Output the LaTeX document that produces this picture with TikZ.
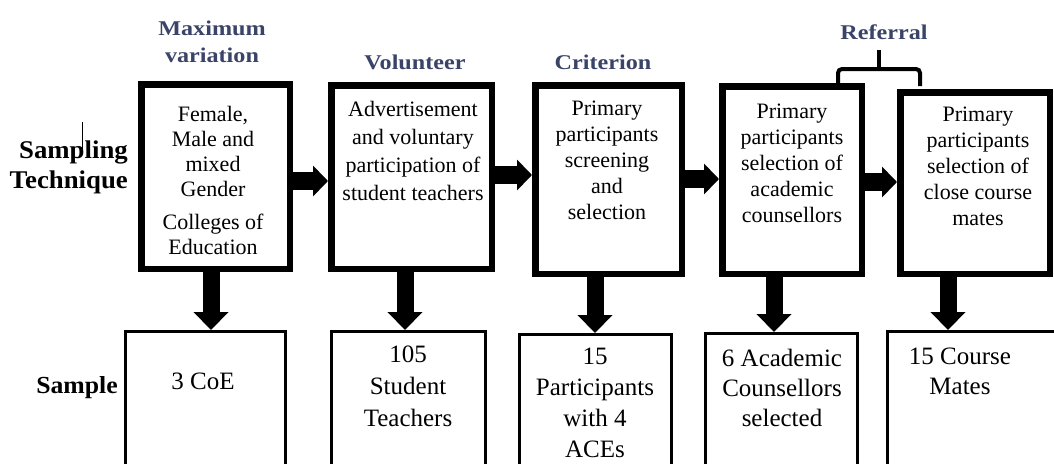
\documentclass[tikz,border=0pt]{standalone}
\usepackage{fontspec}
\setmainfont{Liberation Serif}
\newfontfamily\bodyfont{Liberation Serif}
\newfontfamily\rowfont[FakeStretch=1.05]{Liberation Serif}
\newfontfamily\headfont[FakeStretch=1.15]{Liberation Serif}
\usetikzlibrary{arrows.meta}
\definecolor{headblue}{RGB}{58,68,105}

\begin{document}
\begin{tikzpicture}[x=1pt,y=-1pt,
  topbox/.style={draw=black, line width=6.5pt, inner sep=0pt},
  samplebox/.style={draw=black, line width=3pt, inner sep=0pt, minimum height=150pt},
  boxtext/.style={align=center, inner sep=0pt, anchor=north, font=\bodyfont\fontsize{22}{#1}\selectfont},
  boxtext/.default=26,
  sampletext/.style={align=center, inner sep=0pt, anchor=north, font=\bodyfont\fontsize{25}{#1}\selectfont},
  sampletext/.default=31,
  headlabel/.style={align=center, inner sep=0pt, text=headblue, font=\headfont\bfseries\fontsize{21}{27}\selectfont},
  rowlabel/.style={align=right, inner sep=0pt, anchor=east, font=\rowfont\bfseries\fontsize{#1}{30}\selectfont},
  rowlabel/.default=25.5,
  harrow/.style={line width=18pt, -{Triangle[length=15pt,width=30pt]}},
  varrow/.style={line width=17pt, -{Triangle[length=18pt,width=34pt]}},
  brace/.style={line width=4pt, rounded corners=4pt}
]
\clip (0,0) rectangle (1054,463);
\fill[white] (0,0) rectangle (1054,463);

% row labels
\node[rowlabel] (lblTech) at (128,167) {Sampling\\Technique};
\node[rowlabel=24.5] (lblSample) at (118,388) {Sample};
\draw[line width=0.8pt] (82,122) -- (82,153);

% sampling technique boxes
\node[topbox, minimum width=148.5pt, minimum height=184.5pt] (t1) at (215.5,176.5) {};
\node[topbox, minimum width=160.5pt, minimum height=183.5pt] (t2) at (411.5,177) {};
\node[topbox, minimum width=146.5pt, minimum height=188.5pt] (t3) at (608.5,179.5) {};
\node[topbox, minimum width=139.5pt, minimum height=187.5pt] (t4) at (792,180) {};
\node[topbox, minimum width=149.5pt, minimum height=181.5pt] (t5) at (975,183) {};

\node[boxtext=25] (t1txt) at (213,106) {Female,\\Male and\\mixed\\Gender\\[8pt]Colleges of\\Education};
\node[boxtext=28] (t2txt) at (413,101.5) {Advertisement\\and voluntary\\participation of\\student teachers};
\node[boxtext] (t3txt) at (607,100.5) {Primary\\participants\\screening\\and\\selection};
\node[boxtext] (t4txt) at (792,104) {Primary\\participants\\selection of\\academic\\counsellors};
\node[boxtext] (t5txt) at (978,107) {Primary\\participants\\selection of\\close course\\mates};

% technique names
\node[headlabel] (hMax) at (212,41.5) {Maximum\\variation};
\node[headlabel] (hVol) at (415,62) {Volunteer};
\node[headlabel] (hCrit) at (603,62) {Criterion};
\node[headlabel] (hRef) at (884,32) {Referral};

% referral bracket over the last two boxes
\coordinate (refStem) at (879,50);
\draw[brace] (838,0 |- t4.north) -- (838,69) -- (920,69) -- (920,86);
\draw[line width=4pt] (879,71) -- (refStem);

% sample boxes
\node[samplebox, minimum width=160pt] (s1) at (205.5,406.5) {};
\node[samplebox, minimum width=154pt] (s2) at (408.5,406.5) {};
\node[samplebox, minimum width=152pt] (s3) at (595.5,409.5) {};
\node[samplebox, minimum width=152pt] (s4) at (781.5,408.5) {};
\node[samplebox, minimum width=190pt] (s5) at (982.5,406.5) {};

\node[sampletext] (s1txt) at (203,372.5) {3 CoE};
\node[sampletext=32] (s2txt) at (408,345.5) {105\\Student\\Teachers};
\node[sampletext] (s3txt) at (595,347.5) {15\\Participants\\with 4\\ACEs};
\node[sampletext=30] (s4txt) at (782,348.5) {6 Academic\\Counsellors\\selected};
\node[sampletext=30] (s5txt) at (960,347.5) {15 Course\\Mates};

% flow between techniques
\draw[harrow] (t1.east |- 0,181) -- (t2.west |- 0,181);
\draw[harrow] (t2.east |- 0,175) -- (t3.west |- 0,175);
\draw[harrow] (t3.east |- 0,179) -- (t4.west |- 0,179);
\draw[harrow] (t4.east |- 0,182) -- (t5.west |- 0,182);

% technique to sample
\draw[varrow] (211,0 |- t1.south) -- (211,0 |- s1.north);
\draw[varrow] (405,0 |- t2.south) -- (405,0 |- s2.north);
\draw[varrow] (595,0 |- t3.south) -- (595,0 |- s3.north);
\draw[varrow] (774,0 |- t4.south) -- (774,0 |- s4.north);
\draw[varrow] (948,0 |- t5.south) -- (948,0 |- s5.north);
\end{tikzpicture}
\end{document}
